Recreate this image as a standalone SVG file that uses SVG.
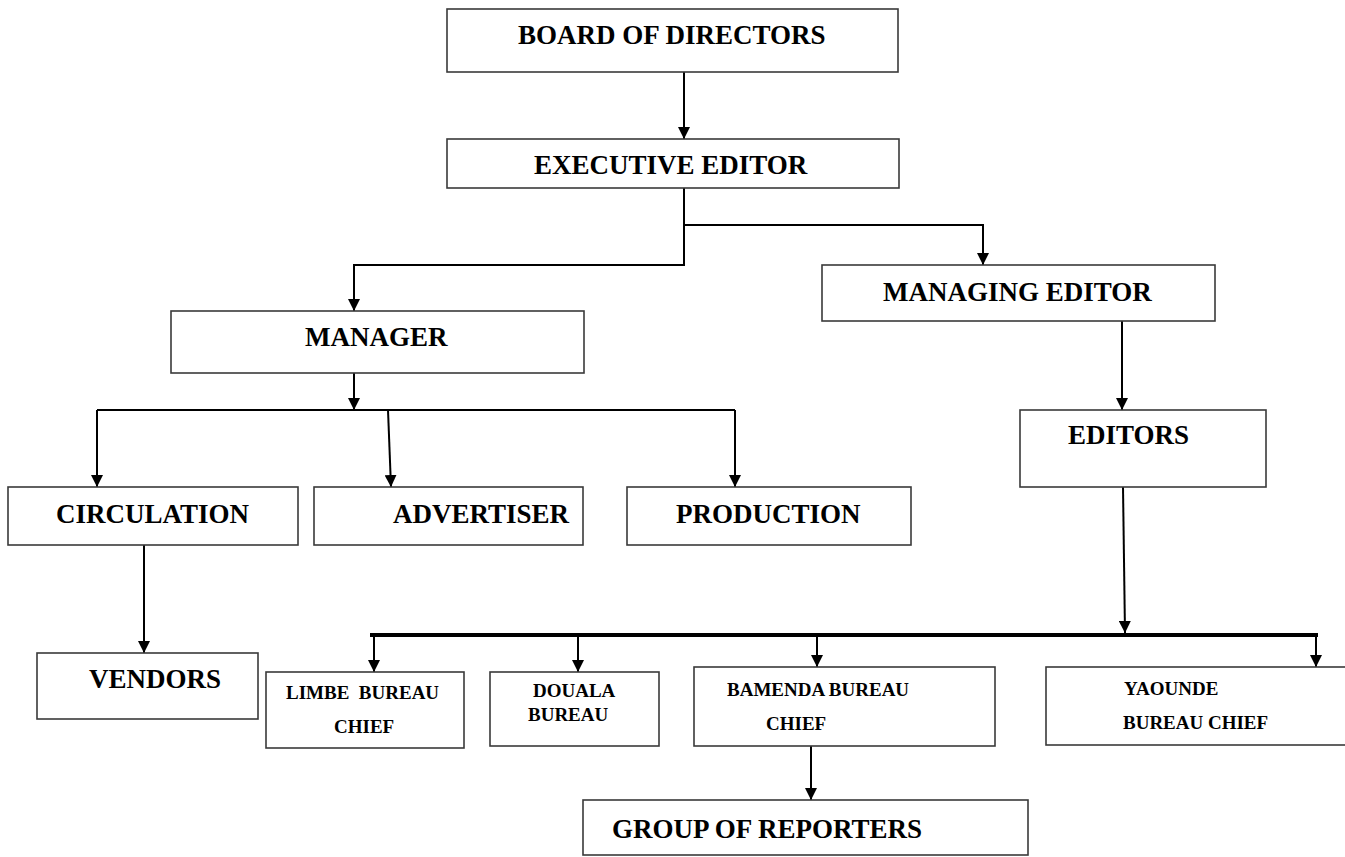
<svg xmlns="http://www.w3.org/2000/svg" width="1345" height="857" viewBox="0 0 1345 857">
<style>
.box{fill:#fff;stroke:#3a3a3a;stroke-width:1.6}
.t{font-weight:bold;font-size:27px;fill:#000;white-space:pre}
.s{font-size:19px}
.c{fill:none;stroke:#000;stroke-width:2}
.bus{fill:none;stroke:#000;stroke-width:4}
</style>
<defs>
<marker id="ah" viewBox="0 0 12 12" refX="12" refY="6" markerWidth="12" markerHeight="12" markerUnits="userSpaceOnUse" orient="auto">
<path d="M0,0 L12,6 L0,12 z" fill="#000"/>
</marker>
</defs>
<rect width="1345" height="857" fill="#fff"/>
<g id="connectors">
<path class="c" d="M684,72 V139" marker-end="url(#ah)"/>
<path class="c" d="M684,188 V265 H354 V311" marker-end="url(#ah)"/>
<path class="c" d="M684,225 H983 V265" marker-end="url(#ah)"/>
<path class="c" d="M354,373 V410" marker-end="url(#ah)"/>
<path class="c" d="M97,410 H735"/>
<path class="c" d="M97,410 V487" marker-end="url(#ah)"/>
<path class="c" d="M388,410 L391,487" marker-end="url(#ah)"/>
<path class="c" d="M735,410 V487" marker-end="url(#ah)"/>
<path class="c" d="M144,545 V653" marker-end="url(#ah)"/>
<path class="c" d="M1122,321 V410" marker-end="url(#ah)"/>
<path class="c" d="M1123,487 L1125,633" marker-end="url(#ah)"/>
<path class="bus" d="M370,635 H1318"/>
<path class="c" d="M374,637 V672" marker-end="url(#ah)"/>
<path class="c" d="M578,637 V672" marker-end="url(#ah)"/>
<path class="c" d="M817,637 V667" marker-end="url(#ah)"/>
<path class="c" d="M1316,637 V667" marker-end="url(#ah)"/>
<path class="c" d="M811,746 V800" marker-end="url(#ah)"/>
</g>
<g font-family="'Liberation Serif', Tinos, 'Times New Roman', 'Nimbus Roman', 'DejaVu Serif', serif">
<g id="board"><rect class="box" x="447" y="9" width="451" height="63"/><text class="t" x="518" y="44">BOARD OF DIRECTORS</text></g>
<g id="exec"><rect class="box" x="447" y="139" width="452" height="49"/><text class="t" x="534" y="174">EXECUTIVE EDITOR</text></g>
<g id="manager"><rect class="box" x="171" y="311" width="413" height="62"/><text class="t" x="305" y="346">MANAGER</text></g>
<g id="managing"><rect class="box" x="822" y="265" width="393" height="56"/><text class="t" x="883" y="301">MANAGING EDITOR</text></g>
<g id="editors"><rect class="box" x="1020" y="410" width="246" height="77"/><text class="t" x="1068" y="444">EDITORS</text></g>
<g id="circulation"><rect class="box" x="8" y="487" width="290" height="58"/><text class="t" x="56" y="523">CIRCULATION</text></g>
<g id="advertiser"><rect class="box" x="314" y="487" width="269" height="58"/><text class="t" x="393" y="523">ADVERTISER</text></g>
<g id="production"><rect class="box" x="627" y="487" width="284" height="58"/><text class="t" x="676" y="523">PRODUCTION</text></g>
<g id="vendors"><rect class="box" x="37" y="653" width="221" height="66"/><text class="t" x="89" y="688">VENDORS</text></g>
<g id="limbe"><rect class="box" x="266" y="672" width="198" height="76"/><text class="t s" x="286" y="699">LIMBE  BUREAU</text><text class="t s" x="334" y="733">CHIEF</text></g>
<g id="douala"><rect class="box" x="490" y="672" width="169" height="74"/><text class="t s" x="533" y="697">DOUALA</text><text class="t s" x="528" y="721">BUREAU</text></g>
<g id="bamenda"><rect class="box" x="694" y="667" width="301" height="79"/><text class="t s" x="727" y="696">BAMENDA BUREAU</text><text class="t s" x="766" y="730">CHIEF</text></g>
<g id="yaounde"><rect class="box" x="1046" y="667" width="310" height="78"/><text class="t s" x="1124" y="695">YAOUNDE</text><text class="t s" x="1123" y="729">BUREAU CHIEF</text></g>
<g id="reporters"><rect class="box" x="583" y="800" width="445" height="55"/><text class="t" x="612" y="838">GROUP OF REPORTERS</text></g>
</g>
</svg>
